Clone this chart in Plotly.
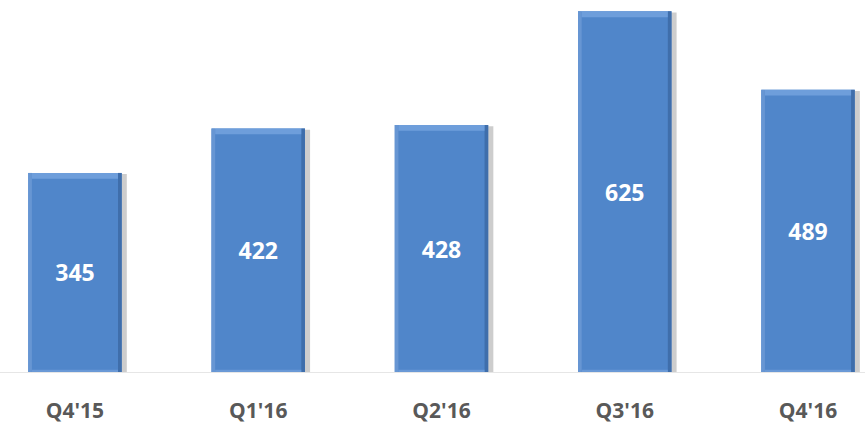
import plotly.graph_objects as go

quarters = ["Q4'15", "Q1'16", "Q2'16", "Q3'16", "Q4'16"]
values = [345, 422, 428, 625, 489]

BAR_W = 0.51
EDGE = 0.02
TOP = 10
BOTTOM = 4

fig = go.Figure()

# soft drop shadow behind each bar
fig.add_trace(go.Bar(
    x=quarters, y=[v + 2 for v in values], base=[-4] * len(values),
    width=BAR_W, offset=-BAR_W / 2 + 0.028,
    marker=dict(color="rgba(90,90,90,0.30)", line=dict(width=0)),
    hoverinfo="skip", showlegend=False,
))

# main bar body with value label
fig.add_trace(go.Bar(
    x=quarters, y=values, width=BAR_W,
    marker=dict(color="#5086ca", line=dict(width=0)),
    text=[str(v) for v in values], textposition="inside",
    insidetextanchor="middle", textangle=0,
    textfont=dict(family="Open Sans", size=23, color="white", weight="bold"),
    showlegend=False,
))

# bevel: lighter left edge
fig.add_trace(go.Bar(
    x=quarters, y=values, width=EDGE, offset=-BAR_W / 2,
    marker=dict(color="#6796d3", line=dict(width=0)),
    hoverinfo="skip", showlegend=False,
))

# bevel: darker right edge
fig.add_trace(go.Bar(
    x=quarters, y=values, width=EDGE, offset=BAR_W / 2 - EDGE,
    marker=dict(color="#3f6eab", line=dict(width=0)),
    hoverinfo="skip", showlegend=False,
))

# bevel: highlighted top strip
fig.add_trace(go.Bar(
    x=quarters, y=[TOP] * len(values), base=[v - TOP for v in values],
    width=BAR_W - 2 * EDGE, offset=-BAR_W / 2 + EDGE,
    marker=dict(color="#6e9edb", line=dict(width=0)),
    hoverinfo="skip", showlegend=False,
))

# bevel: lighter bottom strip
fig.add_trace(go.Bar(
    x=quarters, y=[BOTTOM] * len(values), base=[0] * len(values),
    width=BAR_W - 2 * EDGE, offset=-BAR_W / 2 + EDGE,
    marker=dict(color="#6a99d6", line=dict(width=0)),
    hoverinfo="skip", showlegend=False,
))

fig.update_layout(
    width=865, height=424,
    margin=dict(l=0, r=0, t=0, b=52),
    barmode="overlay",
    plot_bgcolor="white", paper_bgcolor="white",
    xaxis=dict(
        range=[-0.409, 4.311], showgrid=False, zeroline=False,
        showline=True, linecolor="#e6e6e6", linewidth=1,
        ticks="", ticklabelstandoff=20,
        tickfont=dict(family="Open Sans", size=21, color="#595959", weight="bold"),
    ),
    yaxis=dict(range=[0, 644.7], visible=False),
)

fig.write_html("out.html")
